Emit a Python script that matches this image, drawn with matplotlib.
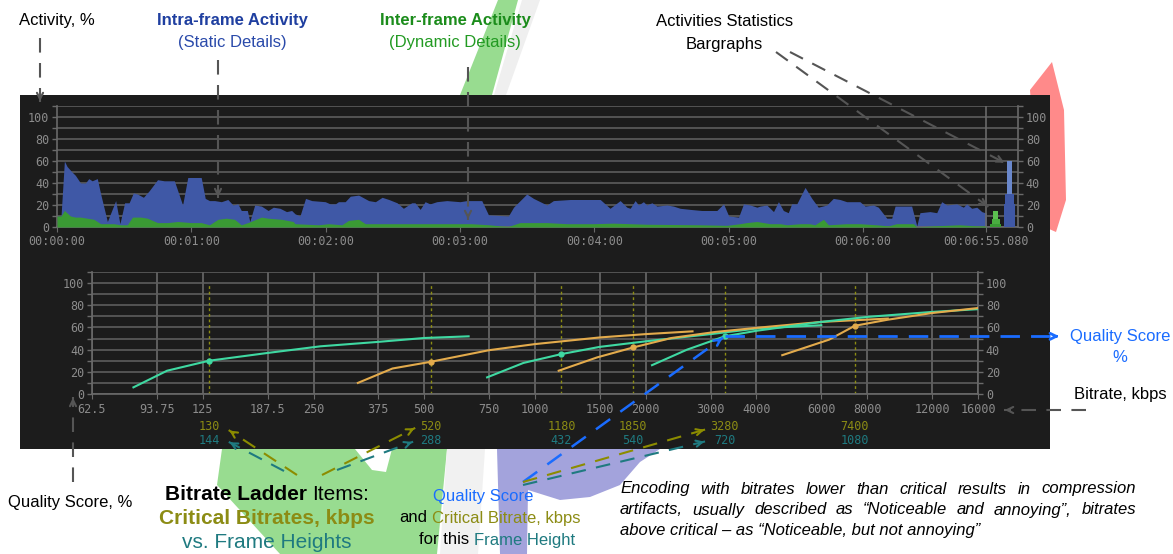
import numpy as np
import matplotlib
matplotlib.use('Agg')
import matplotlib.pyplot as plt
import matplotlib.transforms as mtransforms
from matplotlib.patches import Rectangle, Polygon, FancyArrowPatch
from matplotlib.lines import Line2D

W, H = 1173, 554

# activity over time (seconds, %)
intra_t = [0, 1.8, 3.3, 4.5, 6.7, 8.2, 10.5, 12.7, 14.2, 15.7, 18.0, 19.5, 22.5, 26.2, 28.1,
           30.2, 32.2, 34.1, 35.9, 38.6, 41.2, 44.9, 47.9, 52.4, 56.1, 58.4, 64.4, 66.2, 68.1,
           70.4, 73.4, 76.3, 78.6, 80.8, 82.3, 85.0, 86.1, 88.3, 91.3, 94.3, 96.6, 99.6, 102.5,
           104.8, 106.3, 108.5, 111.0, 113.8, 119.8, 122.0, 124.3, 125.7, 128.7, 131.0, 134.7,
           139.2, 142.2, 145.2, 148.2, 151.9, 154.7, 158.4, 159.9, 162.2, 164.4, 166.6, 169.6,
           174.1, 180.0, 183.0, 189.7, 192.7, 201.6, 203.9, 209.8, 212.8, 218.8, 221.7, 229.2,
           242.6, 247.0, 251.5, 254.5, 256.0, 258.2, 259.7, 261.9, 263.4, 265.7, 267.9, 272.4,
           275.3, 278.3, 282.8, 288.0, 294.7, 297.7, 300.0, 304.4, 306.6, 309.6, 312.6, 314.0,
           317.0, 320.0, 322.2, 324.4, 326.6, 328.1, 330.4, 334.1, 337.1, 340.0, 343.8, 346.7,
           349.7, 352.7, 358.6, 360.9, 364.6, 366.8, 370.6, 372.8, 374.3, 381.7, 384.0, 385.4,
           389.9, 392.9, 395.1, 397.4, 401.8, 404.8, 406.3, 408.5, 410.8, 413.0, 414.5, 415.08]
intra_v = [10, 10, 60, 55, 50, 47, 40, 40, 44, 42, 44, 30, 5, 24, 3,
           22, 22, 31, 30, 27, 33, 43, 42, 42, 20, 45, 45, 26, 24,
           24, 23, 25, 20, 21, 15, 15, 5, 20, 19, 15, 18, 17, 14,
           15, 12, 10, 26, 24, 23, 21, 21, 23, 23, 28, 29,
           24, 23, 27, 25, 22, 17, 22, 22, 16, 23, 21, 23,
           24, 23, 24, 24, 11, 10, 18, 30, 26, 20, 24, 25,
           25, 17, 24, 18, 17, 24, 20, 23, 20, 22, 19, 20,
           19, 17, 16, 15, 15, 21, 10, 9, 21, 20, 18, 19,
           20, 14, 23, 15, 13, 21, 21, 36, 26, 18, 20, 26,
           25, 23, 23, 19, 20, 18, 8, 8, 19, 19, 1, 13,
           14, 13, 23, 20, 21, 18, 21, 17, 18, 14, 13, 13]

inter_t = [0, 1.8, 3.3, 6.0, 8.2, 10.5, 13.5, 16.5, 19.5, 25.4, 28.4, 31.4, 33.7, 37.4, 40.4,
           44.9, 49.4, 53.9, 59.9, 64.4, 68.1, 71.9, 75.6, 79.3, 82.3, 85.3, 91.3, 94.3, 100.3,
           105.5, 106.3, 116.8, 121.3, 127.2, 130.2, 134.7, 137.7, 143.7, 160.0, 178.5, 185.0,
           193.0, 197.9, 201.6, 206.8, 218.8, 227.7, 239.6, 248.5, 263.4, 287.2, 299.2, 305.1,
           308.0, 312.6, 318.5, 323.0, 326.0, 332.0, 336.0, 338.5, 342.3, 344.5, 352.7, 358.6,
           366.0, 371.3, 375.0, 382.5, 384.0, 391.5, 403.0, 410.8, 415.08]
inter_v = [10, 10, 15, 10, 9, 9, 8, 7, 3, 3, 2, 2, 9, 9, 8,
           4, 4, 5, 4, 4, 2, 7, 8, 7, 2, 4, 9, 8, 7,
           5, 3, 2, 3, 2, 6, 7, 3, 3, 3, 3, 3,
           2, 1, 0.5, 4, 4, 3, 3, 3.5, 2.5, 2, 1.5, 3,
           4, 5, 3, 3, 2, 3, 3, 2, 7, 2, 3, 3,
           2, 1, 3, 3, 0, 1, 2, 1, 1]
duration = 415.08
time_ticks = [0, 60, 120, 180, 240, 300, 360, duration]

# statistics bargraphs: heights of the stacked steps (narrow, medium, wide)
bar_inter = [15, 7, 3]
bar_intra = [60, 30, 21]

# bitrate ladder: rate-quality curves per frame height
frame_heights = [144, 288, 432, 540, 720, 1080]
critical_kbps = [130, 520, 1180, 1850, 3280, 7400]
critical_score = [30, 29, 36, 42, 52, 61.5]
curve_kbps = [
    [81, 100, 130, 187.5, 261, 375, 500, 660],
    [330, 410, 520, 750, 1000, 1500, 2000, 2680],
    [741, 930, 1180, 1500, 2000, 3000, 4000, 6000],
    [1160, 1475, 1850, 2350, 3100, 4100, 6000, 9100],
    [2080, 2590, 3280, 4000, 6000, 8000, 12000, 16000],
    [4700, 6300, 7400, 9100, 12000, 16000],
]
curve_score = [
    [6, 21, 30, 37, 43, 47, 50.5, 52],
    [10, 23, 29, 39.5, 45, 51, 54, 56.5],
    [15, 28, 36, 42.5, 47.5, 54, 59, 62],
    [21, 33, 42, 50.5, 56, 60, 65, 68],
    [26, 40, 52, 57, 65, 69.5, 74, 76.5],
    [35, 49, 61.5, 67, 73, 77.5],
]
rate_ticks = [62.5, 93.75, 125, 187.5, 250, 375, 500, 750, 1000, 1500, 2000, 3000, 4000,
              6000, 8000, 12000, 16000]

BG = '#1c1c1c'
GRID = '#5e5e5e'
TICK = '#8c8c8c'
BLUE_FILL = '#3f58a6'
GREEN_FILL = '#3a9a34'
TEAL_LINE = '#3fd9a2'
ORANGE_LINE = '#e3ab4c'
OLIVE = '#8c8c14'
TEAL = '#1f7a80'
QBLUE = '#1a6cff'
ARROW_GRAY = '#555555'

plt.rcParams['font.family'] = ['Liberation Sans', 'DejaVu Sans']
mono = dict(family='DejaVu Sans Mono', size=8.5, color=TICK)

fig = plt.figure(figsize=(W / 100, H / 100), dpi=100)
fig.patch.set_facecolor('white')


def fx(x):
    return x / W


def fy(y):
    return 1 - y / H


def poly(pts, color, z=-5):
    fig.add_artist(Polygon([(fx(x), fy(y)) for x, y in pts], closed=True,
                           transform=fig.transFigure, facecolor=color,
                           edgecolor='none', zorder=z))


# faint watermark shapes behind the panel
poly([(498, 0), (518, 0), (492, 95), (460, 95)], '#98dc90')
poly([(522, 0), (540, 0), (506, 95), (494, 95)], '#efefef')
poly([(222, 449), (447, 449), (437, 554), (280, 554), (217, 485)], '#98dc90')
poly([(355, 449), (392, 449), (386, 472), (372, 470)], 'white', z=-4)
poly([(447, 449), (485, 449), (478, 554), (440, 554)], '#f1f1f1')
poly([(497, 449), (660, 449), (640, 462), (620, 485), (590, 497), (560, 500),
      (528, 490), (527, 554), (500, 554)], '#a3a3dc')
poly([(1030, 90), (1052, 62), (1064, 110), (1066, 200), (1056, 232), (1040, 225)], '#ff8a8a')

# dark panel
fig.add_artist(Rectangle((fx(20), fy(449)), fx(1030), 354 / H, transform=fig.transFigure,
                         facecolor=BG, edgecolor='none', zorder=-1))


def style_axes(ax):
    ax.set_facecolor('none')
    for s in ['left', 'right', 'bottom']:
        ax.spines[s].set_color('#6a6a6a')
        ax.spines[s].set_linewidth(1.2)
    ax.spines['top'].set_visible(False)
    ax.set_ylim(0, 110)
    ax.set_yticks(np.arange(0, 101, 20))
    ax.set_yticks(np.arange(10, 111, 20), minor=True)
    ax.grid(axis='y', which='both', color=GRID, lw=1.2)
    ax.tick_params(axis='y', which='both', left=True, right=True, labelleft=True,
                   labelright=True, colors='#6a6a6a', length=3.6, width=1, pad=2,
                   labelcolor=TICK)
    for lab in ax.get_yticklabels():
        lab.set_fontfamily('DejaVu Sans Mono')
        lab.set_fontsize(8.5)
    ax.set_axisbelow(True)


# ---- activity chart
ax1 = fig.add_axes([fx(57), fy(227), 961 / W, 121 / H])
style_axes(ax1)
ax1.fill_between(intra_t, intra_v, color=BLUE_FILL, lw=0, zorder=2)
ax1.fill_between(inter_t, inter_v, color=GREEN_FILL, lw=0, zorder=3)
ax1.set_xlim(0, 429.2)
ax1.axvline(duration, color='#6a6a6a', lw=1.2, zorder=4)
# bargraphs
ax1.bar(419.2, bar_inter[0], width=2.4, color='#5cc050', zorder=3)
ax1.bar(419.2, bar_inter[1], width=3.6, color='#4aad40', zorder=3)
ax1.bar(419.2, bar_inter[2], width=5.0, color=GREEN_FILL, zorder=3)
ax1.bar(425.4, bar_intra[0], width=2.4, color='#6a88cc', zorder=3)
ax1.bar(425.4, bar_intra[1], width=3.6, color=BLUE_FILL, zorder=3)
ax1.bar(425.4, bar_intra[2], width=5.0, color=BLUE_FILL, zorder=3)


def hms(s):
    m, sec = divmod(s, 60)
    if abs(sec - round(sec)) > 1e-6:
        return '00:%02d:%06.3f' % (m, sec)
    return '00:%02d:%02d' % (m, sec)


ax1.set_xticks(time_ticks)
ax1.set_xticklabels([hms(t) for t in time_ticks], **mono)
ax1.tick_params(axis='x', colors='#6a6a6a', length=3.6, pad=2, labelcolor=TICK)

# ---- bitrate ladder chart
ax2 = fig.add_axes([fx(92), fy(394), 886 / W, 122 / H])
style_axes(ax2)
ax2.set_xscale('log', base=2)
ax2.set_xlim(62.5, 16000)
ax2.set_xticks(rate_ticks)
ax2.set_xticks([], minor=True)
ax2.set_xticklabels([('%g' % r) for r in rate_ticks], **mono)
ax2.tick_params(axis='x', colors='#6a6a6a', length=3.6, pad=3, labelcolor=TICK)
ax2.grid(axis='x', color='#6a6a6a', lw=1.2)
ax2.vlines(critical_kbps, 0, 100, colors=OLIVE, linestyles=(0, (2, 2)), lw=1, zorder=2)
for i, (xs, ys) in enumerate(zip(curve_kbps, curve_score)):
    col = TEAL_LINE if i % 2 == 0 else ORANGE_LINE
    ax2.plot(xs, ys, color=col, lw=1.5, zorder=3)
    ax2.plot(critical_kbps[i], critical_score[i], 'o', color=col, ms=3.5, zorder=4)

lab_tr = mtransforms.blended_transform_factory(ax2.transData, fig.transFigure)
for cb, fh in zip(critical_kbps, frame_heights):
    ax2.text(cb, fy(426), str(cb), transform=lab_tr, ha='center', va='center',
             family='DejaVu Sans Mono', fontsize=8.5, color=OLIVE)
    ax2.text(cb, fy(440), str(fh), transform=lab_tr, ha='center', va='center',
             family='DejaVu Sans Mono', fontsize=8.5, color=TEAL)

# ---- annotations
renderer = fig.canvas.get_renderer()


def dashed_arrow(x0, y0, x1, y1, color=ARROW_GRAY, lw=1.5, dash=(7, 5), head=True):
    d = np.hypot(x1 - x0, y1 - y0)
    ux, uy = (x1 - x0) / d, (y1 - y0) / d
    fig.add_artist(Line2D([fx(x0), fx(x1 - ux * 2)], [fy(y0), fy(y1 - uy * 2)],
                          transform=fig.transFigure, color=color, lw=lw,
                          linestyle=(0, dash), zorder=6))
    if head:
        fig.add_artist(FancyArrowPatch(
            (fx(x1 - ux * 10), fy(y1 - uy * 10)), (fx(x1), fy(y1)),
            transform=fig.transFigure, arrowstyle='->', mutation_scale=11,
            color=color, lw=lw, zorder=6))


def text_width(s, **kw):
    t = fig.text(0.5, 0.5, s, **kw)
    w = t.get_window_extent(renderer).width
    t.remove()
    return w


def rich_line(xc, y, parts, size):
    sp = text_width('a a', fontsize=size) - text_width('aa', fontsize=size)
    widths = [text_width(s, fontsize=size, fontweight=wt) for s, c, wt in parts]
    x = xc - (sum(widths) + sp * (len(parts) - 1)) / 2
    for (s, c, wt), w in zip(parts, widths):
        fig.text(fx(x), fy(y), s, fontsize=size, color=c, fontweight=wt,
                 ha='left', va='center')
        x += w + sp


def justified(lines, x0, x1, y0, dy, **kw):
    for i, line in enumerate(lines):
        y = fy(y0 + i * dy)
        if i == len(lines) - 1:
            fig.text(fx(x0), y, line, ha='left', va='center', **kw)
            continue
        words = line.split(' ')
        # word start offsets inside the naturally set line, then stretch the spaces
        starts = [text_width(' '.join(words[:k]) + ' ', **kw) if k else 0.0
                  for k in range(len(words))]
        natural = text_width(line, **kw)
        extra = (x1 - x0 - natural) / (len(words) - 1)
        for k, w in enumerate(words):
            fig.text(fx(x0 + starts[k] + extra * k), y, w, ha='left', va='center', **kw)


SZ = 12
fig.text(fx(57), fy(21), 'Activity, %', fontsize=SZ, ha='center', va='center')
dashed_arrow(40, 38, 40, 104)
fig.text(fx(232), fy(21), 'Intra-frame Activity', fontsize=SZ, fontweight='bold',
         color='#1f3fa0', ha='center', va='center')
fig.text(fx(232), fy(43), '(Static Details)', fontsize=SZ, color='#2a4aaa',
         ha='center', va='center')
dashed_arrow(218, 60, 218, 200)
fig.text(fx(455), fy(21), 'Inter-frame Activity', fontsize=SZ, fontweight='bold',
         color='#1b8c1b', ha='center', va='center')
fig.text(fx(455), fy(43), '(Dynamic Details)', fontsize=SZ, color='#229a22',
         ha='center', va='center')
dashed_arrow(468, 67, 468, 222)
fig.text(fx(725), fy(21), 'Activities Statistics', fontsize=SZ, ha='center', va='center')
fig.text(fx(724), fy(44), 'Bargraphs', fontsize=SZ, ha='center', va='center')
dashed_arrow(776, 52, 990, 208)
dashed_arrow(790, 52, 1007, 164)

# quality score of the 720p critical point
qx, qy = ax2.transData.transform((critical_kbps[4], critical_score[4]))
qy = H - qy
fig.text(fx(1120), fy(337), 'Quality Score', fontsize=SZ, color=QBLUE, ha='center', va='center')
fig.text(fx(1120), fy(358), '%', fontsize=SZ, color=QBLUE, ha='center', va='center')
dashed_arrow(qx, qy, 1062, qy, color=QBLUE, lw=2, dash=(7, 4))
fig.text(fx(1120), fy(394), 'Bitrate, kbps', fontsize=SZ, ha='center', va='center')
dashed_arrow(1086, 410, 1002, 410)
fig.text(fx(70), fy(502), 'Quality Score, %', fontsize=SZ, ha='center', va='center')
dashed_arrow(73, 482, 73, 395)

rich_line(267, 494, [('Bitrate Ladder', 'black', 'bold'), ('Items:', 'black', 'normal')], 15)
rich_line(267, 519, [('Critical Bitrates, kbps', OLIVE, 'bold')], 15)
rich_line(267, 543, [('vs. Frame Heights', TEAL, 'normal')], 15)
dashed_arrow(297, 475, 227, 429, color='#8c8c00')
dashed_arrow(284, 471, 227, 441, color=TEAL)
dashed_arrow(322, 475, 417, 427, color='#8c8c00')
dashed_arrow(337, 470, 415, 441, color=TEAL)

rich_line(483, 496, [('Quality Score', QBLUE, 'normal')], SZ)
rich_line(490, 518, [('and', 'black', 'normal'), ('Critical Bitrate, kbps', OLIVE, 'normal')], SZ)
rich_line(497, 540, [('for this', 'black', 'normal'), ('Frame Height', TEAL, 'normal')], SZ)
dashed_arrow(523, 482, qx, qy, color=QBLUE, lw=1.8)
dashed_arrow(523, 482, 707, 429, color='#8c8c00')
dashed_arrow(523, 485, 707, 441, color=TEAL)

justified(['Encoding with bitrates lower than critical results in compression',
           'artifacts, usually described as \u201cNoticeable and annoying\u201d, bitrates',
           'above critical \u2013 as \u201cNoticeable, but not annoying\u201d'],
          620, 1136, 489, 21, fontsize=12, fontstyle='italic')

fig.savefig('out.png', dpi=100)
